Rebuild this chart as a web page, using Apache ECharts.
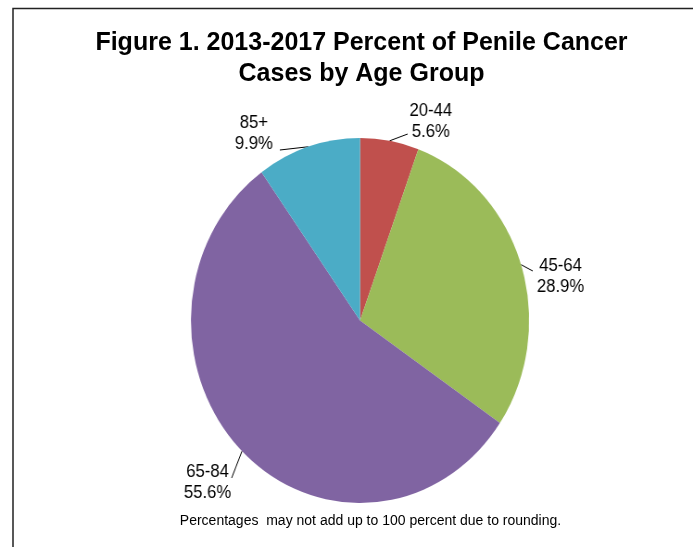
<!DOCTYPE html>
<html>
<head>
<meta charset="utf-8">
<script src="https://cdn.jsdelivr.net/npm/echarts@6/dist/echarts.min.js"></script>
<style>
  html, body { margin: 0; padding: 0; background: #fff; }
  #wrap { position: relative; width: 693px; height: 547px; overflow: hidden; }
  #bg { position: absolute; left: 0; top: 0; width: 693px; height: 547px; }
  /* the pie area of the source picture is squeezed sideways */
  #pie { position: absolute; left: 0; top: 0; width: 748px; height: 547px;
         transform: scaleX(0.9265); transform-origin: 0 0; }
</style>
</head>
<body>
<div id="wrap">
  <div id="bg"></div>
  <div id="pie"></div>
</div>
<script>
// data
var ageGroups = ['20-44', '45-64', '65-84', '85+'];
var percents = [5.6, 28.9, 55.6, 9.9];
var sliceColors = ['#C0504D', '#9BBB59', '#8064A2', '#4BACC6'];
var titleText = 'Figure 1. 2013-2017 Percent of Penile Cancer\nCases by Age Group';
var noteText = 'Percentages  may not add up to 100 percent due to rounding.';

// label spots and leader line ends (pie layer coordinates)
var labelPos = [[465, 122], [605, 277], [224, 483], [274, 134]];
var lineEnds = [[440, 134], [575, 271], [250, 478], [302, 150]];

var font = 'Liberation Sans, Arial, sans-serif';

// background: frame, title, footnote
var bgChart = echarts.init(document.getElementById('bg'));
bgChart.setOption({
  animation: false,
  graphic: [
    {
      type: 'rect',
      shape: { x: 13, y: 8.5, width: 800, height: 700 },
      style: { fill: 'none', stroke: '#222', lineWidth: 1.5 }
    },
    {
      type: 'text',
      style: {
        x: 361.5, y: 58.5, text: titleText,
        font: 'bold 25px ' + font, lineHeight: 31,
        align: 'center', verticalAlign: 'middle', fill: '#000'
      }
    },
    {
      type: 'text',
      style: {
        x: 370.5, y: 521.5, text: noteText,
        font: '14px ' + font,
        align: 'center', verticalAlign: 'middle', fill: '#000'
      }
    }
  ]
});

// pie
var pieChart = echarts.init(document.getElementById('pie'));
var pieData = ageGroups.map(function (name, i) {
  return { name: name, value: percents[i], itemStyle: { color: sliceColors[i] } };
});
pieChart.setOption({
  animation: false,
  series: [
    {
      type: 'pie',
      center: [388.6, 320.5],
      radius: 182.5,
      startAngle: 90,
      clockwise: true,
      silent: true,
      data: pieData,
      label: {
        show: true,
        formatter: '{b}\n{c}%',
        fontFamily: font,
        fontSize: 18,
        lineHeight: 21,
        color: '#000'
      },
      labelLine: {
        show: true,
        length: 8,
        length2: 0,
        lineStyle: { color: '#000', width: 1 }
      },
      labelLayout: function (p) {
        var pos = labelPos[p.dataIndex];
        var res = { x: pos[0], y: pos[1], align: 'center', verticalAlign: 'middle' };
        if (p.labelLinePoints && p.labelLinePoints.length) {
          var start = p.labelLinePoints[0];
          var end = lineEnds[p.dataIndex];
          res.labelLinePoints = [start, end, end];
        }
        return res;
      }
    }
  ]
});
</script>
</body>
</html>
